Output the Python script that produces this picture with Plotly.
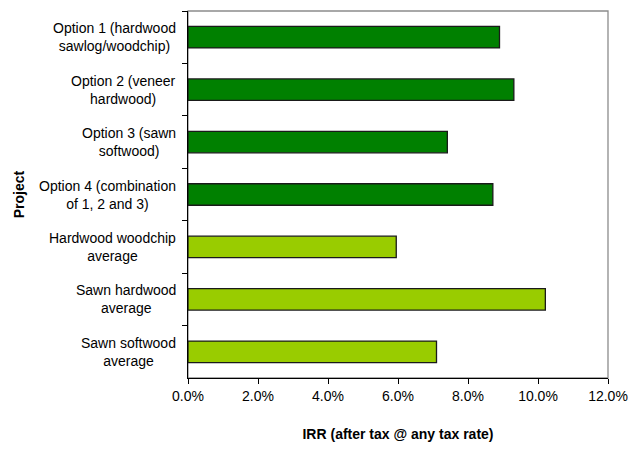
import plotly.graph_objects as go

projects = [
    "Option 1 (hardwood<br>sawlog/woodchip)",
    "Option 2 (veneer<br>hardwood)",
    "Option 3 (sawn<br>softwood)",
    "Option 4 (combination<br>of 1, 2 and 3)",
    "Hardwood woodchip<br>average",
    "Sawn hardwood<br>average",
    "Sawn softwood<br>average",
]
irr = [0.089, 0.0931, 0.0741, 0.0871, 0.0595, 0.1021, 0.0710]
bar_colors = ["#008000"] * 4 + ["#99CC00"] * 3
x_ticks = [0, 0.02, 0.04, 0.06, 0.08, 0.10, 0.12]

FONT = "Liberation Sans, Arial, sans-serif"

fig = go.Figure()
fig.add_trace(go.Bar(
    y=projects, x=irr, orientation="h",
    marker=dict(color=bar_colors, line=dict(color="#1a1a1a", width=1.3)),
    width=0.41,
))

fig.add_shape(type="rect", xref="paper", yref="paper", x0=0, y0=0, x1=1, y1=1,
              line=dict(color="#8c8c8c", width=1.3), layer="below")

# category labels: centred multi-line text, right-anchored next to the axis
for p in projects:
    fig.add_annotation(
        text=p, xref="paper", x=0, y=p, yref="y",
        xanchor="right", yanchor="middle", align="center",
        xshift=-10, showarrow=False, font=dict(size=14, color="#000000"),
    )

fig.update_layout(
    width=642, height=451,
    margin=dict(l=188, r=34, t=11, b=69),
    paper_bgcolor="white", plot_bgcolor="white",
    font=dict(family=FONT, size=14, color="#000000"),
    showlegend=False,
    xaxis=dict(
        range=[0, 0.12], tickvals=x_ticks, tickformat=".1%",
        showgrid=False, zeroline=False,
        showline=True, linecolor="#000000", linewidth=1,
        ticks="outside", ticklen=5, tickcolor="#000000",
        tickfont=dict(size=14),
        title=dict(text="<b>IRR (after tax @ any tax rate)</b>", font=dict(size=14), standoff=26),
    ),
    yaxis=dict(
        autorange="reversed",
        showgrid=False, zeroline=False,
        showline=True, linecolor="#000000", linewidth=1,
        ticks="outside", ticklen=5, tickcolor="#000000", tickson="boundaries",
        showticklabels=False,
        title=dict(text="<b>Project</b>", font=dict(size=14), standoff=159),
    ),
)

fig.write_html("out.html")
